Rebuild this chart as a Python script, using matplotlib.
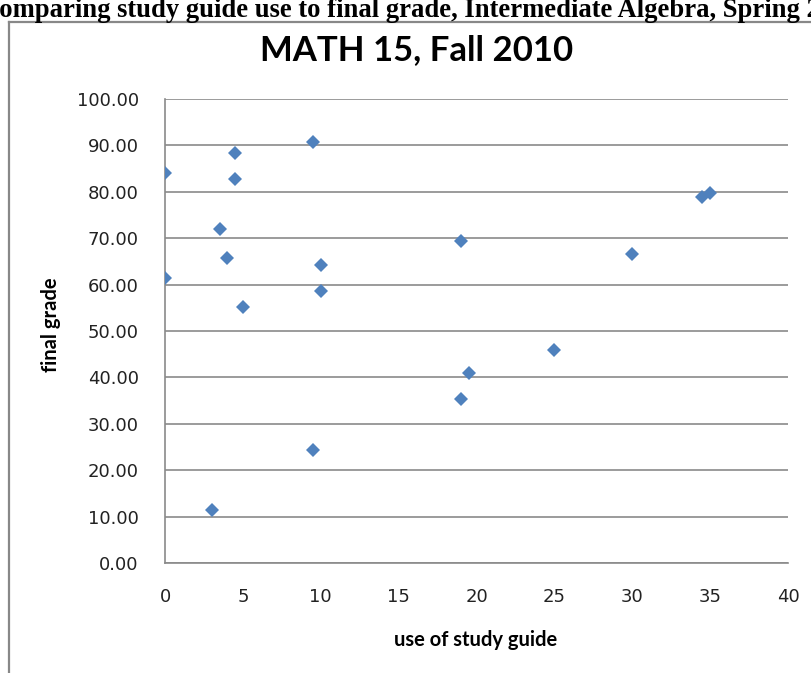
import matplotlib.pyplot as plt
from matplotlib.lines import Line2D

# study guide use vs. final grade
guide_use = [0, 0, 3, 3.5, 4, 4.5, 4.5, 5, 9.5, 9.5, 10, 10,
             19, 19, 19.5, 25, 30, 34.5, 35]
final_grade = [84.0, 61.5, 11.5, 72.0, 65.7, 88.3, 82.8, 55.2, 90.7, 24.3, 64.2, 58.7,
               69.5, 35.4, 41.0, 46.0, 66.7, 78.9, 79.7]

y_ticks = [0, 10, 20, 30, 40, 50, 60, 70, 80, 90, 100]
x_ticks = [0, 5, 10, 15, 20, 25, 30, 35, 40]

fig = plt.figure(figsize=(8.11, 6.73), dpi=100)

# document heading, cut off by the page edges
fig.text(-0.025, 0.975, "Comparing study guide use to final grade, Intermediate Algebra, Spring 2011",
         family="Liberation Serif", weight="bold", fontsize=19.2, ha="left", va="baseline")

# chart frame (left and top edges only visible)
fig.add_artist(Line2D([0.0115, 0.0115], [0.0, 0.967], transform=fig.transFigure,
                      color="#888888", lw=1.6))
fig.add_artist(Line2D([0.0115, 1.0], [0.967, 0.967], transform=fig.transFigure,
                      color="#888888", lw=1.6))

ax = fig.add_axes([0.2035, 0.1634, 0.7681, 0.6895])
ax.plot(guide_use, final_grade, linestyle="none", marker="D", markersize=7.5,
        color="#4F81BD", markeredgewidth=0, zorder=3)

ax.set_xlim(0, 40)
ax.set_ylim(0, 100)
ax.set_xticks(x_ticks)
ax.set_yticks(y_ticks)
ax.set_yticklabels([f"{v:.2f}" for v in y_ticks])
ax.tick_params(length=0, labelsize=13, colors="#222222")
ax.tick_params(axis="y", pad=19)
ax.tick_params(axis="x", pad=18)
ax.grid(axis="y", color="#8a8a8a", lw=1.2)
ax.set_axisbelow(True)
for side in ["top", "right"]:
    ax.spines[side].set_visible(False)
for side in ["left", "bottom"]:
    ax.spines[side].set_color("#8a8a8a")
    ax.spines[side].set_linewidth(1.2)

fig.text(0.5136, 0.926, "MATH 15, Fall 2010", family="Lato", weight="bold",
         fontsize=25, ha="center", va="center")
fig.text(0.586, 0.049, "use of study guide", family="Lato", weight="bold",
         fontsize=14.5, ha="center", va="center")
fig.text(0.063, 0.517, "final grade", family="Lato", weight="bold",
         fontsize=14.5, ha="center", va="center", rotation=90)

fig.savefig("out.png", dpi=100)
